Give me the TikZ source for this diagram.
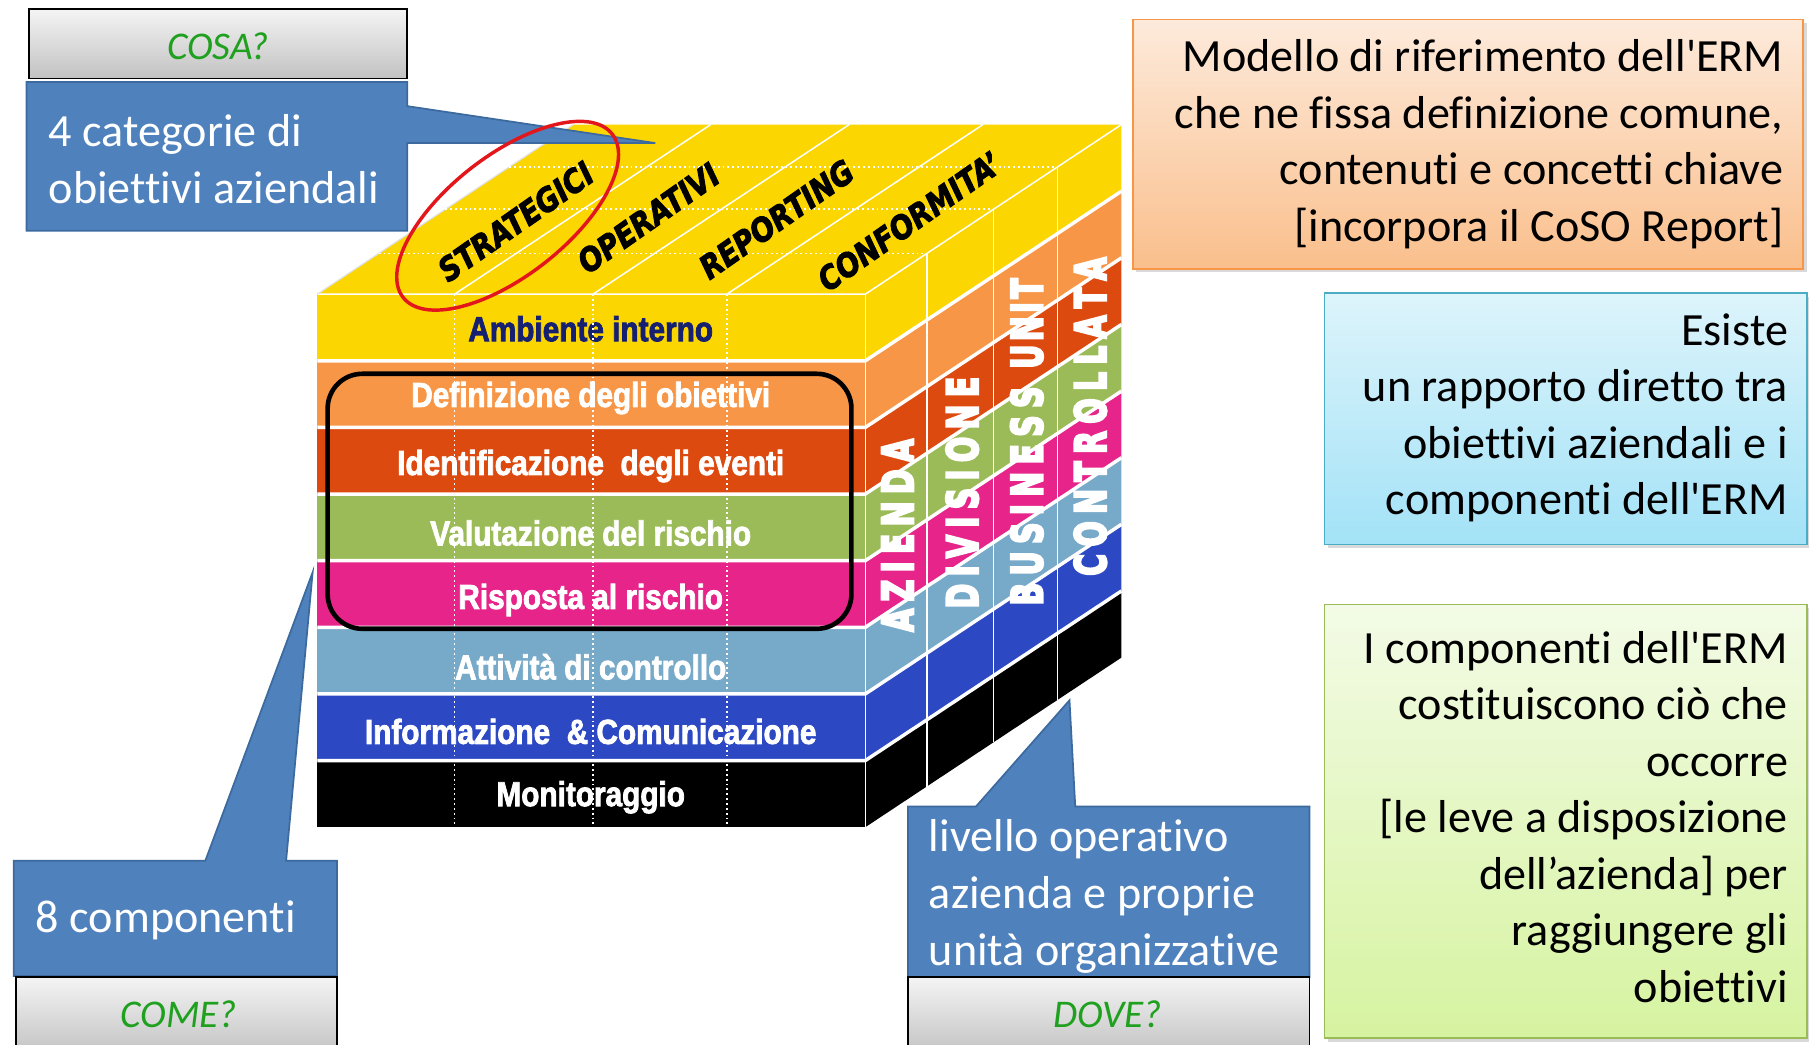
\documentclass[tikz,border=0pt]{standalone}
\usepackage{fontspec}
\setmainfont{Carlito}[Ligatures={TeX,NoCommon}]
\newfontfamily\arialf{Liberation Sans}[BoldFeatures={FakeBold=2.5}]
\newfontfamily\topf{DejaVu Sans}[BoldItalicFeatures={FakeBold=3}]
\newfontfamily\sidef{DejaVu Sans}[BoldFeatures={FakeBold=6}]
\usetikzlibrary{shadows}
\newcommand\ks{\kern9pt}
\newcommand\kt{\kern4pt}
\definecolor{cyel}{HTML}{FCD600}
\definecolor{corg}{HTML}{F79646}
\definecolor{cdorg}{HTML}{DD4A10}
\definecolor{cgrn}{HTML}{9BBB59}
\definecolor{cmag}{HTML}{E6248A}
\definecolor{clbl}{HTML}{77A9C9}
\definecolor{cblu}{HTML}{2C49C3}
\definecolor{cnavy}{HTML}{152070}
\definecolor{cbox}{HTML}{4F81BD}
\definecolor{cboxd}{HTML}{3C6A9E}
\definecolor{gtop}{HTML}{F4F4F4}
\definecolor{gbot}{HTML}{C2C2C2}
\definecolor{askgreen}{HTML}{1FA01F}
\definecolor{otop}{HTML}{FDEADB}
\definecolor{obot}{HTML}{FABF8C}
\definecolor{oline}{HTML}{F79646}
\definecolor{ctop}{HTML}{DDF4FB}
\definecolor{cbot}{HTML}{A3E2F7}
\definecolor{cline}{HTML}{4BACC6}
\definecolor{ltop}{HTML}{F3FBE6}
\definecolor{lbot}{HTML}{D6F3A0}
\definecolor{lline}{HTML}{9BBB59}
\definecolor{cred}{HTML}{E3161B}
\begin{document}
\begin{tikzpicture}[x=1pt,y=-1pt,
  callout/.style={fill=cbox, draw=cboxd, line width=1.5, line join=miter},
  graybox/.style={draw=black, line width=1.5, top color=gtop, bottom color=gbot},
  asktext/.style={font=\fontsize{34}{40}\selectfont\itshape, text=askgreen, inner sep=0},
  calltext/.style={font=\fontsize{40}{49}\selectfont, text=white, align=left, anchor=west, inner sep=0},
  notetext/.style={font=\fontsize{40}{49}\selectfont, text=black, align=right, anchor=east, inner sep=0},
  layertext/.style={font=\arialf\bfseries\fontsize{30}{32}\selectfont, text=white, inner sep=0},
  toptext/.style={font=\topf\bfseries\itshape\fontsize{28}{30}\selectfont, text=black, inner sep=0, rotate=35},
  sidetext/.style={font=\sidef\bfseries\fontsize{37}{40}\selectfont, text=white, rotate=90, inner sep=0},
  notebox/.style={line width=1.5, drop shadow={opacity=0.3, shadow xshift=3pt, shadow yshift=-3pt}},
  wline/.style={white, line width=1.3},
  wdot/.style={white, line width=1.6, dash pattern=on 1.6pt off 2.6pt},
]
\useasboundingbox (0,0) rectangle (1568,905);
\clip (0,0) rectangle (1568,905);

% ---------- cube: layers ----------
\foreach \c [count=\i from 0] in {cyel,corg,cdorg,cgrn,cmag,clbl,cblu,black} {
  \pgfmathsetmacro\yt{255+57.75*\i}
  \pgfmathsetmacro\yb{255+57.75*(\i+1)}
  \fill[\c] (275,\yt) rectangle (750,\yb);
  \fill[\c] (750,\yt) -- (972,{\yt-147}) -- (972,{\yb-147}) -- (750,\yb) -- cycle;
}
% top face
\fill[cyel] (275,255) -- (497,108) -- (972,108) -- (750,255) -- cycle;
% layer separations
\foreach \i in {1,...,7} {
  \pgfmathsetmacro\yy{255+57.75*\i}
  \draw[white, line width=3] (275,\yy) -- (750,\yy) -- (972,{\yy-147});
}
% edges
\draw[wline] (275,255) -- (750,255) -- (972,108);
\draw[wline] (750,255) -- (750,717);
\draw[white!75!gray, line width=1] (275,255) -- (497,108);
% top face column dividers
\foreach \x in {394,514,630} \draw[wline] (\x,255) -- ({\x+222},108);
% top face dotted depth lines and right face dividers
\foreach \t in {0.24,0.5,0.75} {
  \draw[wdot] ({275+222*\t},{255-147*\t}) -- ({750+222*\t},{255-147*\t});
  \draw[wline] ({750+222*\t},{255-147*\t}) -- ({750+222*\t},{717-147*\t});
}

% front labels
\node[layertext, text=cnavy] (l1) at (512,285) {\scalebox{0.86}[1]{Ambiente interno}};
\node[layertext] (l2) at (512,345) {\scalebox{0.86}[1]{Definizione degli obiettivi}};
\node[layertext] (l3) at (512,404) {\scalebox{0.86}[1]{Identificazione\ \ degli eventi}};
\node[layertext] (l4) at (512,462) {\scalebox{0.86}[1]{Valutazione del rischio}};
\node[layertext] (l5) at (512,520) {\scalebox{0.86}[1]{Risposta al rischio}};
\node[layertext] (l6) at (512,578) {\scalebox{0.86}[1]{Attività di controllo}};
\node[layertext] (l7) at (512,634) {\scalebox{0.86}[1]{Informazione\ \ \& Comunicazione}};
\node[layertext] (l8) at (512,691) {\scalebox{0.86}[1]{Monitoraggio}};
% front dotted lines
\foreach \x in {394,514,630} \draw[wdot] (\x,255) -- (\x,717);

% top labels
\node[toptext] (t1) at (447,192) {\scalebox{0.86}[1]{STRATEGICI}};
\node[toptext] (t2) at (562,189) {\scalebox{0.86}[1]{OPERATIVI}};
\node[toptext] (t3) at (673,190) {\scalebox{0.86}[1]{REPORTING}};
\node[toptext] (t4) at (788,192) {\scalebox{0.86}[1]{CONFORMITA’}};

% side labels
\node[sidetext] (s1) at (778,464) {\scalebox{0.7}[1]{A\ks Z\ks I\ks E\ks N\ks D\ks A}};
\node[sidetext] (s2) at (834,427) {\scalebox{0.7}[1]{D\ks I\ks V\ks I\ks S\ks I\ks O\ks N\ks E}};
\node[sidetext] (s3) at (890,383) {\scalebox{0.7}[1]{B\ks U\ks S\ks I\ks N\ks E\ks S\ks S\kern22pt U\kt N\kt I\kt T}};
\node[sidetext] (s4) at (945,361) {\scalebox{0.7}[1]{C\ks O\ks N\ks T\ks R\ks O\ks L\ks L\ks A\ks T\ks A}};

% ---------- callouts ----------
\draw[callout] (23,71) -- (353,71) -- (353,92) -- (568,124) -- (353,124) -- (353,200) -- (23,200) -- cycle;
\node[calltext] (c1) at (42,138) {4 categorie di\\obiettivi aziendali};

\draw[callout] (12,746) -- (178,746) -- (271,496) -- (248,746) -- (292,746) -- (292,846) -- (12,846) -- cycle;
\node[calltext] (c2) at (31,798) {8 componenti};

\draw[callout] (787,699) -- (846,699) -- (927,607) -- (932,699) -- (1135,699) -- (1135,847) -- (787,847) -- cycle;
\node[calltext] (c3) at (805,777) {livello operativo\\azienda e proprie\\unità organizzative};

% ---------- question boxes ----------
\draw[graybox] (25,8) rectangle (353,68);
\node[asktext] (q1) at (189,40) {COSA?};
\draw[graybox] (14,847) rectangle (292,915);
\node[asktext] (q2) at (155,879) {COME?};
\draw[graybox] (787,847) rectangle (1135,915);
\node[asktext] (q3) at (960,879) {DOVE?};

% ---------- highlights ----------
\draw[cred, line width=3, rotate around={38:(440,187)}] (440,187) ellipse [x radius=115, y radius=52];
\draw[black, line width=4, rounded corners=30] (284,324) rectangle (738,545);

% ---------- right notes ----------
\draw[notebox, draw=oline, top color=otop, bottom color=obot] (982,17) rectangle (1563,233);
\node[notetext] (n1) at (1546,125) {Modello di riferimento dell\textquotesingle ERM\\che ne fissa definizione comune,\\contenuti e concetti chiave\\{[}incorpora il CoSO Report{]}};

\draw[notebox, draw=cline, top color=ctop, bottom color=cbot] (1148,254) rectangle (1566,472);
\node[notetext] (n2) at (1550,362) {Esiste\\un rapporto diretto tra\\obiettivi aziendali e i\\componenti dell\textquotesingle ERM};

\draw[notebox, draw=lline, top color=ltop, bottom color=lbot] (1148,524) rectangle (1566,900);
\node[notetext] (n3) at (1550,708) {I componenti dell\textquotesingle ERM\\costituiscono ciò che\\occorre\\{[}le leve a disposizione\\dell’azienda{]} per\\raggiungere gli\\obiettivi};
\end{tikzpicture}
\end{document}
